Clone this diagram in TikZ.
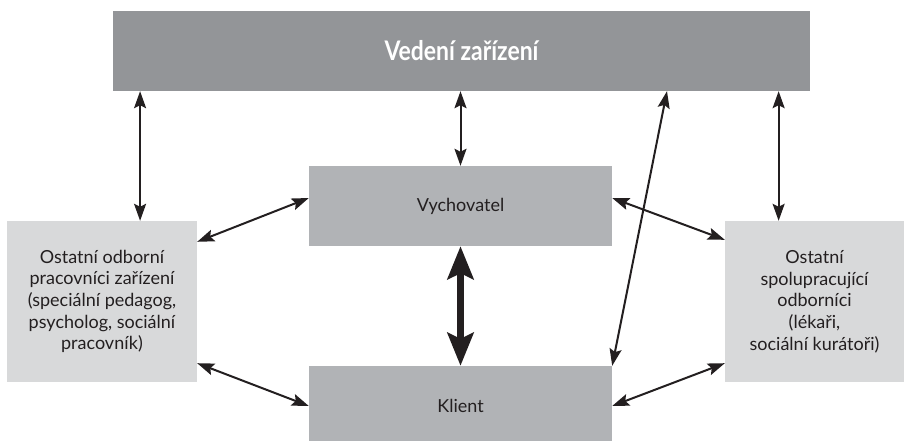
\documentclass[tikz,border=0pt]{standalone}
\usepackage{fontspec}
\usepackage{graphicx}
\setmainfont{Lato}
\usetikzlibrary{arrows.meta,calc}

\definecolor{topgray}{HTML}{939598}
\definecolor{midgray}{HTML}{B1B3B6}
\definecolor{sidegray}{HTML}{D8D9DA}
\definecolor{textgray}{HTML}{231F20}

\tikzset{
    box/.style={inner sep=0pt, text=textgray, align=center,
        font=\fontsize{18}{21.7}\selectfont},
    arr/.style={{Stealth[length=17pt,width=12pt,inset=3pt]}-{Stealth[length=17pt,width=12pt,inset=3pt]},
        line width=2pt, textgray},
    bigarr/.style={{Stealth[length=33pt,width=26pt,inset=6pt]}-{Stealth[length=33pt,width=26pt,inset=6pt]},
        line width=7pt, textgray}
}

\begin{document}
\begin{tikzpicture}[x=1pt,y=-1pt]
        \useasboundingbox (0,0) rectangle (904,441);

        \node[box,fill=topgray,minimum width=697pt,minimum height=80pt,text=white,
              font=\fontsize{27}{30}\selectfont\bfseries] (vedeni) at (461.5,51) {\scalebox{0.85}[1]{Vedení zařízení}};
        \node[box,fill=midgray,minimum width=303pt,minimum height=80pt] (vych) at (460.5,206) {Vychovatel};
        \node[box,fill=midgray,minimum width=303pt,minimum height=80pt] (klient) at (460.5,406) {Klient};
        \node[box,fill=sidegray,minimum width=190pt,minimum height=161pt] (odb) at (102,301.5)
            {Ostatní odborní\\pracovníci zařízení\\(speciální pedagog,\\psycholog, sociální\\pracovník)};
        \node[box,fill=sidegray,minimum width=179pt,minimum height=161pt] (spol) at (814.5,301.5)
            {Ostatní\\spolupracující\\odborníci\\(lékaři,\\sociální kurátoři)};

        \coordinate (o1) at ($(odb.north)!0.4!(odb.north east)$);
        \coordinate (s1) at ($(spol.north)!0.4!(spol.north west)$);

        \path [arr] (vedeni.south -| o1) edge (o1);
        \path [arr] (vedeni.south -| vych.north) edge (vych.north);
        \path [arr] (vedeni.south -| s1) edge (s1);
        \path [arr] ([xshift=205.5pt]vedeni.south) edge (klient.north east);

        \path [arr] ([yshift=-21pt]odb.north east) edge ([yshift=8pt]vych.west);
        \path [arr] ([yshift=19pt]odb.south east) edge (klient.west);
        \path [arr] ([yshift=8pt]vych.east) edge ([yshift=-19pt]spol.north west);
        \path [arr] (klient.east) edge ([yshift=19pt]spol.south west);

        \path [bigarr] (vych.south) edge (klient.north);
    \end{tikzpicture}
\end{document}
